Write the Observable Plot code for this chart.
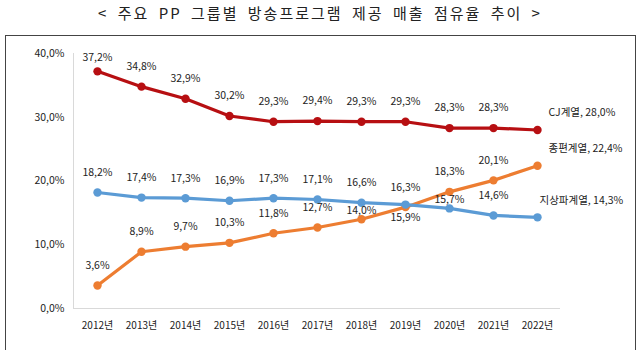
<!DOCTYPE html>
<html><head><meta charset="utf-8">
<script src="https://cdn.jsdelivr.net/npm/d3@7"></script>
<script src="https://cdn.jsdelivr.net/npm/@observablehq/plot@0.6"></script>
<style>
body{margin:0;background:#fff;width:640px;height:350px;overflow:hidden;font-family:"Noto Sans CJK KR",sans-serif;}
#title{position:absolute;left:0;top:3px;width:640px;text-align:center;font-size:15px;letter-spacing:2px;word-spacing:4px;color:#222;line-height:20px;}
#frame{position:absolute;left:5px;top:35px;width:629px;height:330px;border:1px solid #444;}
#chart{position:absolute;left:0;top:0;}
</style></head><body>
<div id="title">&lt; 주요 PP 그룹별 방송프로그램 제공 매출 점유율 추이 &gt;</div>
<div id="frame"><div id="chart"></div></div>
<script>
const years = [2012, 2013, 2014, 2015, 2016, 2017, 2018, 2019, 2020, 2021, 2022];
const cjValues = [37.2, 34.8, 32.9, 30.2, 29.3, 29.4, 29.3, 29.3, 28.3, 28.3, 28.0];
const jongpyeonValues = [3.6, 8.9, 9.7, 10.3, 11.8, 12.7, 14.0, 15.9, 18.3, 20.1, 22.4];
const jisangpaValues = [18.2, 17.4, 17.3, 16.9, 17.3, 17.1, 16.6, 16.3, 15.7, 14.6, 14.3];
const seriesNames = ["CJ계열", "종편계열", "지상파계열"];
const yTicks = [0, 10, 20, 30, 40];

const colors = {"CJ계열": "#b70f12", "종편계열": "#ed7d31", "지상파계열": "#5b9bd5"};
const fmt = v => v.toFixed(1).replace(".", ",") + "%";
const allValues = [cjValues, jongpyeonValues, jisangpaValues];
const rows = [];
seriesNames.forEach((s, i) => {
  allValues[i].forEach((v, j) => rows.push({series: s, year: years[j], value: v, last: j === years.length - 1}));
});
// label placement (presentation only)
const dyFor = d => {
  if (d.last) return -17;
  if (d.series === "CJ계열" && d.year === 2012) return -14;
  if (d.series === "종편계열" && d.year === 2019) return 10;
  if (d.series === "종편계열" && d.year === 2018) return -9;
  if (d.series === "지상파계열" && d.year === 2020) return -9;
  if (d.series === "지상파계열" && d.year === 2019) return -17;
  return -20;
};
const inner = rows.filter(d => !d.last);
const ends = rows.filter(d => d.last);
const marks = [
  Plot.frame({anchor: "left", stroke: "#d9d9d9"}),
  Plot.ruleY([0], {stroke: "#d9d9d9"}),
  Plot.axisY({ticks: yTicks, tickFormat: fmt, tickSize: 0, tickPadding: 9, fontSize: 10.5, fill: "#222", label: null}),
  Plot.axisX({tickFormat: d => d + "년", tickSize: 0, tickPadding: 13, fontSize: 10, fill: "#222", label: null})
];
seriesNames.forEach(s => {
  const data = rows.filter(d => d.series === s);
  marks.push(Plot.line(data, {x: "year", y: "value", stroke: colors[s], strokeWidth: 3.2}));
  marks.push(Plot.dot(data, {x: "year", y: "value", fill: colors[s], r: 4.2}));
});
const dyGroups = d3.group(inner, dyFor);
for (const [dy, data] of dyGroups) {
  marks.push(Plot.text(data, {x: "year", y: "value", text: d => fmt(d.value), dy: dy, fontSize: 10.5, fill: "#222"}));
}
for (const d of ends) {
  marks.push(Plot.text([d], {x: "year", y: "value", text: e => e.series + ", " + fmt(e.value), textAnchor: "start", dx: d.series === "지상파계열" ? 2 : 11, dy: -17, fontSize: 10.5, fill: "#222"}));
}
const chart = Plot.plot({
  width: 629, height: 314,
  marginLeft: 67, marginRight: 75, marginTop: 17, marginBottom: 42,
  style: {fontFamily: "'Noto Sans CJK KR', sans-serif", background: "transparent"},
  x: {type: "point", domain: years, padding: 0.5},
  y: {domain: [0, 40]},
  marks
});
document.getElementById("chart").appendChild(chart);
</script>
</body></html>
